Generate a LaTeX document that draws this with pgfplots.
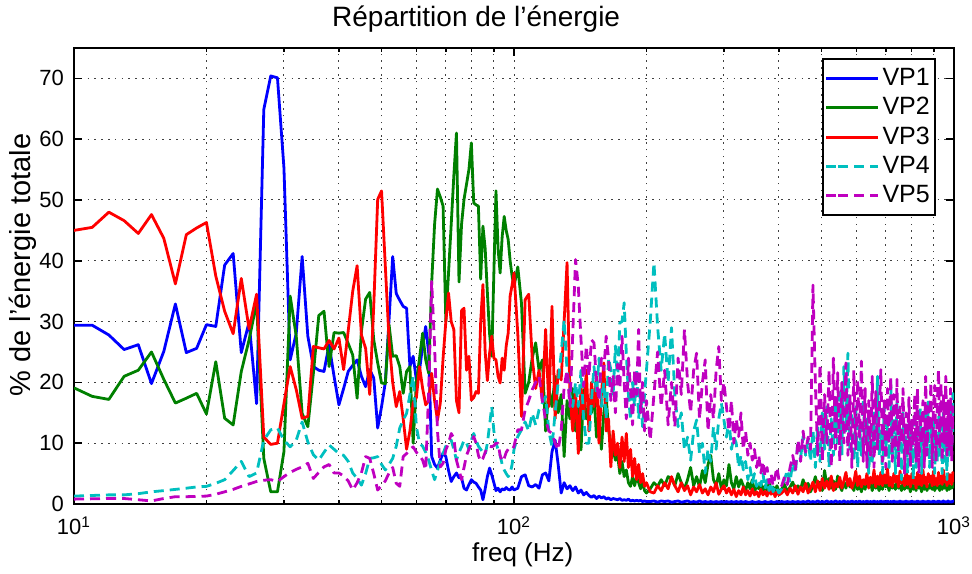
\documentclass[border=0pt]{standalone}
\usepackage{pgfplots}
\usepackage{pgfplotstable}
\usepackage{fontspec}
\setmainfont{Liberation Sans}
\pgfplotsset{compat=1.18}
\definecolor{mblue}{rgb}{0,0,1}
\definecolor{mgreen}{rgb}{0,0.5,0}
\definecolor{mred}{rgb}{1,0,0}
\definecolor{mcyan}{rgb}{0,0.75,0.75}
\definecolor{mmag}{rgb}{0.75,0,0.75}
\pgfplotstableread{
f b g r c m
10 29.4 19.1 45.0 1.3 0.8
11 29.4 17.7 45.5 1.4 0.85
12 27.8 17.2 48.0 1.5 0.9
13 25.4 21.0 46.6 1.5 0.9
14 26.2 22.0 44.5 1.7 0.7
15 19.8 25.0 47.6 2.0 0.5
16 25.1 20.5 43.7 2.2 0.9
17 32.9 16.6 36.2 2.4 1.2
18 24.9 17.4 44.3 2.6 1.2
19 25.6 18.2 45.4 2.8 1.25
20 29.5 14.8 46.3 2.9 1.3
21 29.2 23.4 37.5 3.4 1.6
22 39.3 14.1 31.7 4.0 2.0
23 41.2 13.0 28.0 5.5 2.4
24 24.9 21.8 37.1 7.0 2.9
25 29.9 27.0 28.8 4.5 3.3
26 16.5 33.1 34.5 5.1 3.7
27 64.9 7.5 11.0 10.5 3.9
28 70.4 2.0 9.8 12.2 4.0
29 70.1 2.0 10.0 12.5 3.7
30 55.3 8.6 16.5 10.5 4.5
31 23.7 34.2 22.6 9.4 5.2
32 28.1 27.6 18.8 10.5 5.7
33 40.7 14.9 14.1 13.5 6.1
34 27.6 12.7 14.4 10.2 6.7
35 22.6 21.5 25.9 8.1 4.2
36 22.0 31.0 25.7 7.2 5.2
37 21.8 31.7 25.5 8.5 6.1
38 26.2 22.6 26.9 9.7 6.5
39 21.0 28.2 25.5 9.0 5.1
40 16.3 28.1 27.3 8.3 5.1
41 19.0 28.2 22.1 8.0 4.6
42 21.8 26.4 28.5 7.0 3.8
43 22.8 24.5 35.0 5.1 2.3
44 23.7 17.4 39.2 4.2 3.5
45 21.0 28.4 27.8 3.1 5.1
46 19.3 33.7 25.6 5.0 7.8
47 22.1 34.8 18.0 7.5 7.5
48 20.7 27.0 32.6 7.6 5.0
49 12.5 23.2 50.1 7.8 2.3
50 16.0 19.9 51.5 6.5 3.0
51 20.0 19.8 39.1 5.6 3.8
52 30.3 29.5 27.0 6.5 5.1
53 40.7 24.3 20.0 7.5 6.0
54 34.6 24.4 16.0 9.5 3.4
55 33.5 22.6 18.5 12.5 2.9
56 32.5 18.2 14.0 13.8 7.8
57 32.2 21.8 9.0 14.9 8.3
58 22.6 22.6 12.0 18.0 9.0
59 24.3 10.0 16.6 21.0 9.4
60 20.4 20.0 17.5 12.7 8.5
61 22.0 24.0 22.6 10.0 8.0
62 26.0 28.1 19.0 9.5 7.2
63 29.2 23.7 16.3 8.5 5.6
64 24.8 21.5 17.0 7.2 18.8
65 7.8 36.4 21.5 5.5 36.6
66 6.5 46.0 17.0 4.0 26.0
67 5.9 51.8 13.8 5.5 12.0
68 7.2 50.5 16.6 7.0 6.1
69 8.4 49.0 24.0 8.3 6.7
70 7.8 30.0 30.0 9.5 8.9
71 5.5 38.0 34.7 10.0 10.0
72 3.7 46.0 30.0 10.5 11.6
73 4.5 54.0 28.7 9.0 10.8
74 5.1 61.0 17.0 7.2 7.2
75 4.3 36.5 15.0 8.5 5.6
76 4.3 46.0 31.8 9.4 4.0
77 2.6 50.1 32.2 10.5 6.0
78 2.3 52.6 22.0 10.0 8.0
79 3.2 55.0 24.3 9.0 9.0
80 4.0 59.4 17.1 10.5 10.0
81 3.6 49.5 17.5 11.6 11.1
82 3.4 49.2 18.5 10.5 10.0
83 2.8 49.0 18.2 9.5 8.0
84 2.3 37.0 30.0 9.0 7.0
85 0.7 45.7 36.1 8.5 7.5
86 2.5 42.0 25.0 8.1 8.5
87 4.5 34.7 20.3 10.0 9.4
88 5.9 28.0 24.8 13.0 9.5
89 4.8 24.3 27.6 16.0 9.4
90 3.5 38.0 24.0 12.0 9.6
91 2.2 51.5 23.7 10.0 10.0
92 2.6 42.0 21.0 9.0 10.0
93 2.0 38.0 19.9 8.0 8.0
94 2.5 44.0 24.0 6.5 7.0
95 2.3 47.3 22.0 5.6 7.5
96 2.7 45.0 26.0 5.0 8.5
97 2.4 43.5 28.1 4.5 9.0
98 2.3 40.0 34.2 5.0 9.0
99 2.8 37.5 36.0 6.5 8.9
100 2.3 35.8 38.0 9.0 9.5
102 2.6 39.0 28.0 11.1 12.2
104 4.5 33.0 14.4 12.2 12.2
106 4.8 18.2 33.6 13.5 15.5
108 3.0 20.0 34.5 12.0 17.0
110 2.8 24.0 24.0 14.9 18.8
112 3.2 26.5 19.0 13.0 20.0
114 2.6 22.0 22.0 15.5 21.0
116 4.8 23.7 17.0 16.6 17.0
118 5.1 12.0 28.7 17.7 13.8
120 3.8 19.0 16.0 12.0 12.0
122 8.6 16.0 32.5 9.4 11.6
124 10.5 21.0 14.0 15.0 10.0
126 6.5 15.0 22.0 20.0 8.9
128 1.8 18.0 20.4 24.8 12.0
130 3.5 7.8 30.0 30.3 19.3
132 2.5 17.0 39.7 22.0 22.0
134 3.0 14.0 18.0 18.0 16.0
136 2.2 19.0 12.0 16.0 28.0
138 2.8 12.0 18.5 20.0 40.2
140 1.8 16.0 8.3 16.0 35.8
142 2.3 8.9 19.3 22.0 27.0
144 1.5 18.8 14.0 14.0 19.3
146 1.9 14.0 22.0 10.0 26.0
148 1.4 16.0 12.0 10.0 21.0
150 1.1 15.0 20.0 17.0 27.0
152 1.4 18.0 16.0 22.6 26.5
154 0.9 11.0 21.0 18.0 20.0
156 1.3 14.0 10.0 24.0 17.0
158 1.0 9.0 18.0 16.0 24.0
160 1.2 15.0 23.2 20.0 22.0
162 0.8 17.7 12.0 14.0 27.6
164 1.0 12.2 14.0 24.0 24.0
166 0.7 10.0 6.1 22.1 17.0
168 0.9 9.0 12.0 18.0 21.0
170 0.8 7.2 8.0 26.0 15.0
172 0.7 8.0 10.0 20.0 23.0
174 0.9 5.0 6.0 29.8 19.0
176 0.6 7.0 11.0 30.0 27.6
178 0.7 4.5 7.0 33.1 20.0
180 0.6 5.6 11.6 24.8 14.0
182 0.8 3.5 6.0 18.0 24.0
184 0.5 2.9 9.0 13.8 19.0
186 0.6 4.5 4.5 20.0 13.0
188 0.5 3.0 7.5 16.0 22.0
190 0.6 4.5 4.0 22.0 18.0
192 0.5 3.5 6.5 14.0 28.7
194 0.6 2.5 3.5 18.0 15.0
196 0.4 3.8 5.0 12.7 20.0
198 0.5 2.2 2.9 18.0 12.0
200 0.4 1.8 3.5 22.0 17.0
204 0.4 2.5 2.0 30.0 10.5
208 0.5 3.5 1.8 39.7 18.0
212 0.3 2.9 3.0 29.2 25.0
216 0.5 4.0 2.2 22.0 16.0
220 0.4 3.0 3.5 28.0 22.0
224 0.5 4.5 2.5 20.0 13.0
228 0.3 4.2 4.5 29.0 20.0
232 0.4 3.0 3.0 18.0 12.7
236 0.5 5.0 2.0 12.7 24.0
240 0.3 3.5 3.5 15.0 18.0
244 0.4 2.5 2.2 8.9 28.7
248 0.5 4.0 3.0 11.0 20.0
252 0.3 6.0 1.5 7.2 15.0
256 0.4 3.0 2.8 12.0 22.0
260 0.3 4.5 2.0 13.8 24.8
264 0.5 2.8 3.2 8.3 14.0
268 0.3 5.5 1.8 10.0 20.0
272 0.4 3.5 2.5 5.1 23.7
276 0.3 6.5 1.5 9.0 12.0
280 0.4 8.0 2.8 7.0 18.0
284 0.3 4.0 2.0 12.7 14.0
288 0.4 3.0 3.5 9.0 22.0
292 0.3 5.0 1.6 14.0 25.9
296 0.4 2.5 2.4 16.6 17.0
300 0.3 4.0 3.0 13.8 20.0
304 0.4 3.0 1.8 11.0 16.0
308 0.3 6.5 2.6 14.0 12.0
312 0.4 3.5 1.5 9.0 17.0
316 0.3 2.5 2.4 11.0 10.0
320 0.4 4.5 1.2 10.0 14.0
324 0.3 2.8 2.2 6.0 11.1
328 0.4 4.0 1.5 8.0 15.0
332 0.3 3.0 2.8 5.6 9.0
336 0.4 2.2 1.5 7.0 12.0
340 0.3 3.5 2.2 4.0 8.0
344 0.3 2.5 1.3 6.0 10.0
348 0.4 4.0 2.5 3.5 7.2
352 0.3 2.0 1.5 5.0 9.0
356 0.3 3.0 2.0 2.9 6.0
360 0.4 2.5 1.2 4.0 8.0
364 0.3 3.5 2.4 3.0 5.1
368 0.3 2.0 1.5 5.0 7.0
372 0.4 3.0 2.1 2.5 4.5
376 0.3 2.2 1.3 4.0 6.0
380 0.3 3.5 2.4 2.2 3.4
384 0.4 2.0 1.6 3.5 5.0
388 0.3 2.8 2.2 2.0 3.0
392 0.3 2.2 1.2 3.0 4.5
396 0.4 3.0 2.0 2.5 6.0
400 0.3 2.0 1.5 1.8 4.0
406 0.4 2.5 1.8 2.5 3.0
412 0.3 3.2 2.4 4.0 4.5
418 0.4 2.0 1.5 5.6 3.2
424 0.3 2.8 2.6 3.5 6.0
430 0.4 3.6 1.8 7.0 8.0
436 0.3 2.2 3.0 5.0 5.5
442 0.4 3.0 1.6 10.5 10.5
448 0.3 2.4 2.8 7.5 7.0
454 0.4 4.0 2.0 11.1 12.0
460 0.3 2.6 3.4 8.0 8.5
466 0.5 3.4 1.8 10.5 11.0
472 0.3 2.0 2.6 7.0 9.0
478 0.4 3.0 3.6 12.2 36.0
484 0.3 4.5 2.0 6.0 20.0
490 0.5 2.8 3.8 13.0 8.0
496 0.3 3.6 2.2 7.0 23.0
502 0.4 2.2 4.2 15.0 7.0
508 0.3 5.5 2.6 9.0 18.0
514 0.5 3.0 3.8 16.0 10.0
520 0.3 4.2 2.4 6.0 22.0
526 0.4 2.6 4.6 14.0 6.0
532 0.3 3.8 2.2 8.0 24.0
538 0.5 2.4 3.4 17.0 9.0
544 0.3 4.6 2.8 10.0 21.6
550 0.4 3.0 4.4 19.0 7.0
556 0.3 2.2 2.6 8.0 20.0
562 0.5 3.6 3.8 22.6 10.0
568 0.3 2.6 5.2 12.0 23.2
574 0.4 4.0 3.0 24.8 8.0
580 0.3 2.8 4.2 9.0 18.0
586 0.5 3.4 2.6 15.0 6.0
592 0.3 2.2 3.6 7.0 22.0
598 0.4 3.8 5.4 16.0 9.0
604 0.3 2.4 3.0 6.0 20.4
610 0.5 3.2 4.6 13.0 11.0
616 0.3 2.0 2.8 8.0 23.5
622 0.4 3.6 4.0 17.0 7.0
628 0.3 2.4 3.2 10.0 19.0
634 0.5 4.2 5.0 14.0 6.0
640 0.3 2.8 2.6 5.0 17.0
646 0.4 3.4 4.4 12.0 8.0
652 0.3 2.2 3.4 7.0 21.0
658 0.5 3.8 5.6 15.0 6.0
664 0.3 2.6 2.8 9.0 18.5
670 0.4 3.0 4.6 21.0 9.0
676 0.3 2.2 3.2 8.0 15.0
682 0.5 3.6 5.2 12.0 22.1
688 0.3 2.4 3.0 5.0 7.0
694 0.4 4.0 4.8 16.0 17.0
700 0.3 2.8 3.4 9.0 6.0
706 0.5 3.4 5.8 13.0 19.0
712 0.3 2.2 3.0 6.0 10.0
718 0.4 3.6 4.4 20.4 21.0
724 0.3 2.6 2.8 8.0 7.0
730 0.5 3.2 5.0 14.0 18.0
736 0.3 2.4 3.6 5.0 9.0
742 0.4 3.8 4.6 17.0 20.5
748 0.3 2.6 2.8 7.0 6.0
754 0.5 3.0 5.4 12.0 16.0
760 0.3 2.2 3.4 4.0 10.0
766 0.4 3.6 4.2 15.0 19.0
772 0.3 2.4 3.0 8.0 5.0
778 0.5 4.0 6.0 11.0 15.0
784 0.3 2.6 3.2 5.0 8.0
790 0.4 3.2 4.6 14.0 17.5
796 0.3 2.0 2.8 7.0 6.0
802 0.5 3.6 5.0 12.0 14.0
808 0.3 2.4 3.4 4.0 9.5
814 0.4 3.0 4.4 15.0 18.0
820 0.3 2.2 2.6 6.0 7.0
826 0.5 3.8 5.2 13.0 19.0
832 0.3 2.6 3.2 8.0 5.0
838 0.4 3.2 4.8 16.0 15.0
844 0.3 2.0 3.0 5.0 10.0
850 0.5 3.4 5.6 12.0 17.0
856 0.3 2.4 3.4 7.0 6.0
862 0.4 3.6 4.4 15.0 21.0
868 0.3 2.2 2.8 9.0 8.0
874 0.5 3.0 5.0 17.0 16.0
880 0.3 2.6 3.6 6.0 12.0
886 0.4 3.8 4.6 13.0 20.0
892 0.3 2.4 3.0 8.0 6.0
898 0.5 3.2 5.4 14.0 16.0
904 0.3 2.2 3.2 5.0 19.5
910 0.4 3.6 4.2 12.0 7.0
916 0.3 2.6 3.0 7.0 16.0
922 0.5 3.0 5.2 16.0 22.1
928 0.3 2.2 3.4 8.0 9.0
934 0.4 3.4 4.6 13.0 20.0
940 0.3 2.4 3.2 5.0 7.0
946 0.5 3.8 5.6 15.0 18.0
952 0.3 2.6 3.6 7.0 10.0
958 0.4 3.2 4.4 12.0 21.0
964 0.3 2.2 3.0 4.0 8.0
970 0.5 3.6 5.0 14.0 17.0
976 0.3 2.4 3.4 8.0 9.0
982 0.4 3.0 4.8 17.0 19.0
988 0.3 2.6 3.2 9.0 7.0
994 0.5 3.4 5.2 18.2 16.0
1000 0.4 2.6 3.6 11.0 13.0
}\data
\begin{document}
\begin{tikzpicture}
\begin{axis}[
  name=ax,
  scale only axis,
  width=440pt, height=228pt,
  xmode=log, xmin=10, xmax=1000,
  ymin=0, ymax=75,
  ytick={0,10,...,70},
  xtick={10,100,1000},
  xticklabels={10\textsuperscript{1},10\textsuperscript{2},10\textsuperscript{3}},
  /pgf/number format/assume math mode=true,
  tick align=inside, tick pos=both,
  major tick length=4pt, minor tick length=2pt,
  tick style={black, line width=0.8pt},
  axis line style={black, line width=1.2pt},
  grid=both,
  major grid style={black!75, line width=0.5pt, dash pattern=on 0.8pt off 2.6pt},
  minor grid style={black!75, line width=0.5pt, dash pattern=on 0.8pt off 2.6pt},
  ticklabel style={font=\fontsize{11}{13}\selectfont},
  xticklabel style={anchor=base, yshift=-15.5pt},
  yticklabel style={xshift=-1.5pt},
  title={Répartition de l’énergie},
  every axis title/.style={at={(axis description cs:0.457,1.048)}, anchor=base, font=\fontsize{14}{16}\selectfont},
  xlabel={freq (Hz)},
  every axis x label/.style={at={(axis description cs:0.51,-0.127)}, anchor=base, font=\fontsize{13}{15}\selectfont},
  ylabel={\% de l’énergie totale},
  every axis y label/.style={at={(axis description cs:-0.05,0.524)}, anchor=base, rotate=90, font=\fontsize{14.5}{16}\selectfont},
  legend style={at={(0.9795,0.978)}, anchor=north east, draw=black, line width=1.2pt,
    font=\fontsize{12.5}{14}\selectfont, inner xsep=1pt, inner ysep=3pt,
    nodes={inner sep=1.5pt}, row sep=1.5pt},
  legend cell align=left,
  legend image code/.code={\path (-6pt,0pt) -- (0pt,0pt); \draw[#1] (0pt,0pt) -- (20pt,0pt);},
  every axis plot/.append style={line width=1.4pt, line join=round},
]
\addplot[mblue] table[x=f,y=b]{\data};
\addplot[mgreen] table[x=f,y=g]{\data};
\addplot[mred] table[x=f,y=r]{\data};
\addplot[mcyan, dash pattern=on 5pt off 3pt] table[x=f,y=c]{\data};
\addplot[mmag, dash pattern=on 5pt off 3pt] table[x=f,y=m]{\data};
\legend{VP1,VP2,VP3,VP4,VP5}
\end{axis}
\pgfresetboundingbox
\useasboundingbox ([shift={(-37pt,-35pt)}]ax.south west) rectangle ([shift={(9pt,24pt)}]ax.north east);
\end{tikzpicture}
\end{document}
